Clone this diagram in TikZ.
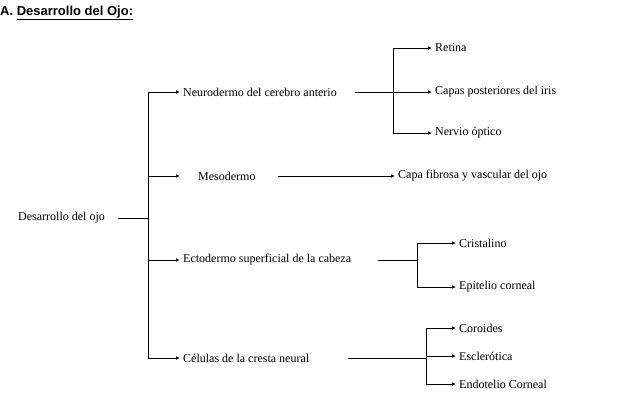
\documentclass[tikz,border=0pt]{standalone}
\usepackage{fontspec}
\setmainfont{Liberation Serif}
\newfontfamily\titlefont{Liberation Sans}
\usetikzlibrary{arrows.meta}
\begin{document}
\begin{tikzpicture}[x=1pt,y=-1pt,
  lbl/.style={anchor=west,inner sep=0pt,font=\fontsize{12}{14}\selectfont},
  ln/.style={line width=0.7pt},
  arr/.style={ln,-{Latex[length=4pt,width=3.5pt]},shorten >=3pt}]
\useasboundingbox (0,0) rectangle (640,402);
\node[anchor=west,inner sep=0pt,font=\titlefont\bfseries\fontsize{13}{15}\selectfont] (title) at (0,13) {A. \underline{Desarrollo del Ojo:}};
\node[lbl] (root) at (18,218) {Desarrollo del ojo};
\coordinate (r1) at (118,218); \coordinate (r2) at (148,218);
\draw[ln] (r1) -- (r2);
\coordinate (vt) at (148,92); \coordinate (vb) at (148,358);
\draw[ln] (vt) -- (vb);
\node[lbl] (n1) at (183,92) {Neurodermo del cerebro anterio};
\node[lbl] (n2) at (198,176) {Mesodermo};
\node[lbl] (n3) at (183,260) {Ectodermo superficial de la cabeza};
\node[lbl] (n4) at (183,358) {Células de la cresta neural};
\foreach \y/\n in {92/n1,176/n2,260/n3,358/n4}{
  \coordinate (s\n) at (148,\y);
  \coordinate (e\n) at (180,\y);
  \draw[arr,shorten >=0pt] (s\n) -- (e\n);}
% branch 1
\coordinate (a1) at (355,92); \coordinate (a2) at (393,92);
\draw[ln] (a1) -- (a2);
\coordinate (at) at (393,48); \coordinate (ab) at (393,133);
\draw[ln] (at) -- (ab);
\node[lbl] (t1) at (435,48) {Retina};
\node[lbl] (t2) at (435,92) {Capas posteriores del iris};
\node[lbl] (t3) at (435,133) {Nervio óptico};
\foreach \y/\n in {48/t1,92/t2,133/t3}{
  \coordinate (q\n) at (393,\y);
  \draw[arr] (q\n) -- (\n.west);}
% branch 2
\node[lbl] (m1) at (398,176) {Capa fibrosa y vascular del ojo};
\coordinate (b1) at (278,176);
\draw[arr] (b1) -- (m1.west);
% branch 3
\coordinate (c1) at (378,260); \coordinate (c2) at (417,260);
\draw[ln] (c1) -- (c2);
\coordinate (ct) at (417,243); \coordinate (cb) at (417,287);
\draw[ln] (ct) -- (cb);
\node[lbl] (u1) at (459,243) {Cristalino};
\node[lbl] (u2) at (459,287) {Epitelio corneal};
\foreach \y/\n in {243/u1,287/u2}{
  \coordinate (q\n) at (417,\y);
  \draw[arr] (q\n) -- (\n.west);}
% branch 4
\coordinate (d1) at (348,358); \coordinate (d2) at (426,358);
\draw[ln] (d1) -- (d2);
\coordinate (dt) at (426,328); \coordinate (db) at (426,384);
\draw[ln] (dt) -- (db);
\node[lbl] (w1) at (459,328) {Coroides};
\node[lbl] (w2) at (459,356) {Esclerótica};
\node[lbl] (w3) at (459,384) {Endotelio Corneal};
\foreach \y/\n in {328/w1,356/w2,384/w3}{
  \coordinate (q\n) at (426,\y);
  \draw[arr] (q\n) -- (\n.west);}
\end{tikzpicture}
\end{document}
